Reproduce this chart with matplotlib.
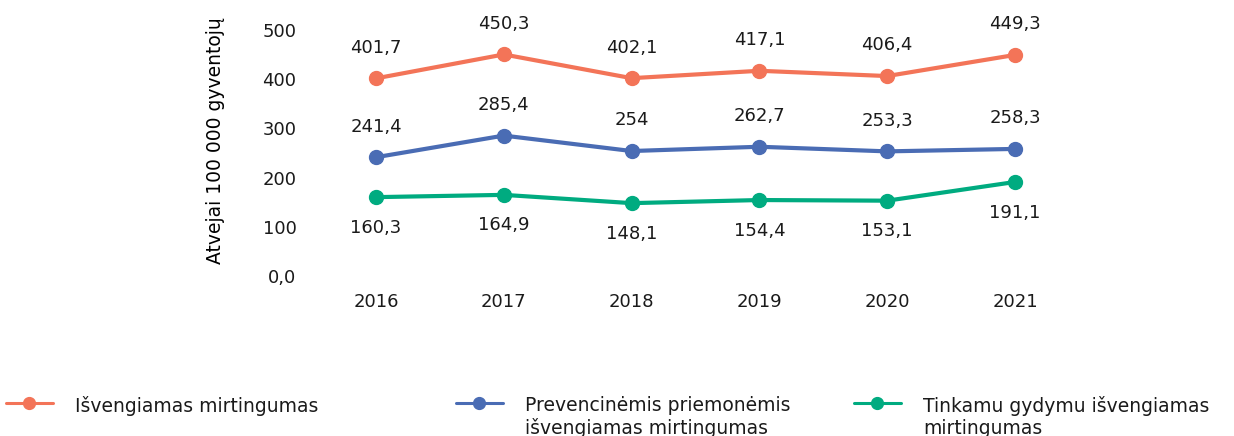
import matplotlib

matplotlib.use("Agg")
import matplotlib.pyplot as plt

years = [2016, 2017, 2018, 2019, 2020, 2021]
avoidable = [401.7, 450.3, 402.1, 417.1, 406.4, 449.3]
preventable = [241.4, 285.4, 254.0, 262.7, 253.3, 258.3]
treatable = [160.3, 164.9, 148.1, 154.4, 153.1, 191.1]
avoidable_labels = ["401,7", "450,3", "402,1", "417,1", "406,4", "449,3"]
preventable_labels = ["241,4", "285,4", "254", "262,7", "253,3", "258,3"]
treatable_labels = ["160,3", "164,9", "148,1", "154,4", "153,1", "191,1"]
y_ticks = [0, 100, 200, 300, 400, 500]
y_tick_labels = ["0,0", "100", "200", "300", "400", "500"]

ORANGE = "#F37458"
BLUE = "#4A6CB4"
GREEN = "#00AB80"
TEXT = "#1a1a1a"

plt.rcParams.update({"font.family": ["DejaVu Sans"], "font.size": 12, "text.color": TEXT})

fig = plt.figure(figsize=(12.34, 4.36), dpi=100)
ax = fig.add_axes([320 / 1234, (436 - 276) / 436, 750 / 1234, 246 / 436])

series = [
    (avoidable, avoidable_labels, ORANGE, 22),
    (preventable, preventable_labels, BLUE, 22),
    (treatable, treatable_labels, GREEN, -22),
]
lines = []
for values, labels, color, dy in series:
    (ln,) = ax.plot(years, values, color=color, lw=3, marker="o", ms=10, solid_capstyle="round")
    lines.append(ln)
    for x, y, txt in zip(years, values, labels):
        ax.annotate(txt, (x, y), xytext=(0, dy), textcoords="offset points",
                    ha="center", va="center", fontsize=13, color=TEXT)

ax.set_xlim(2016 - 56 / 127.8, 2021 + 55 / 127.8)
ax.set_ylim(0, 500)
ax.set_xticks(years)
ax.set_xticklabels([str(y) for y in years])
ax.set_yticks(y_ticks)
ax.set_yticklabels(y_tick_labels)
ax.tick_params(axis="both", length=0, labelsize=13, colors=TEXT)
ax.tick_params(axis="y", pad=17)
ax.tick_params(axis="x", pad=12)
for s in ax.spines.values():
    s.set_visible(False)
ax.set_ylabel("Atvejai 100 000 gyventojų", fontsize=13.5)
ax.yaxis.set_label_coords(-0.127, 0.55)

names = [
    "Išvengiamas mirtingumas",
    "Prevencinėmis priemonėmis\nišvengiamas mirtingumas",
    "Tinkamu gydymu išvengiamas\nmirtingumas",
]
anchors = [(0.0, 0.105), (450 / 1234, 0.105), (848 / 1234, 0.105)]
for ln, name, anchor in zip(lines, names, anchors):
    leg = fig.legend(handles=[ln], labels=[name], loc="upper left", bbox_to_anchor=anchor,
                     frameon=False, fontsize=13.5, handlelength=2.5, handletextpad=1.2,
                     handleheight=1.05, borderaxespad=0, borderpad=0.3)
    # keep the handle level with the first text line
    for col in leg._legend_handle_box.get_children():
        for row in col.get_children():
            row.align = "top"
    for h in leg.legend_handles:
        h.set_linewidth(2.2)
        h.set_markersize(8.5)

fig.savefig("out.png", dpi=100)
